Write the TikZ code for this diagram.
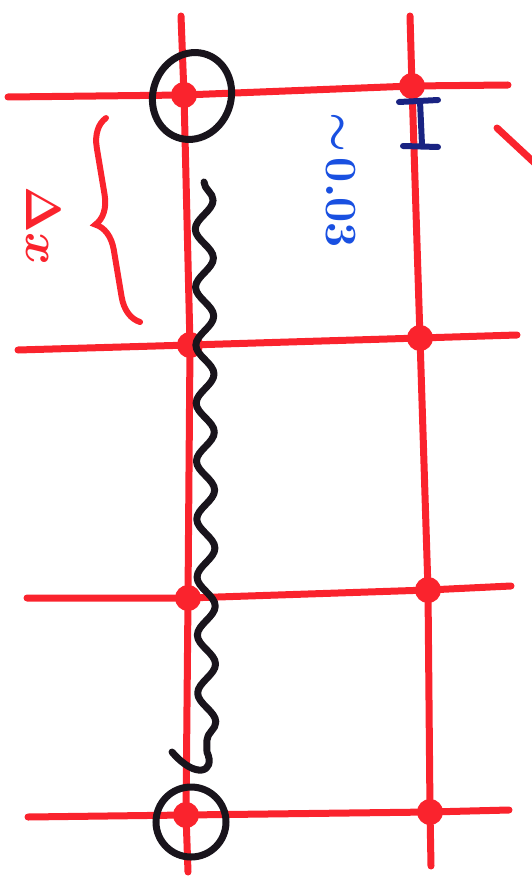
\documentclass[tikz,border=0pt]{standalone}
\usepackage{amsmath,amssymb}
\usetikzlibrary{arrows.meta,positioning,shapes.geometric,decorations.pathmorphing,decorations.pathreplacing,calc}
\definecolor{penRed}{RGB}{250,35,45}
\definecolor{penBlack}{RGB}{25,20,28}
\definecolor{penBlue}{RGB}{25,80,225}
\definecolor{penNavy}{RGB}{25,35,130}

\begin{document}
\begin{tikzpicture}[x=1pt, y=-1pt,
  gridline/.style={draw=penRed, line width=7pt, line cap=round},
  site/.style={circle, fill=penRed, minimum size=26pt, inner sep=0pt},
  ring/.style={ellipse, draw=penBlack, line width=7pt, inner sep=0pt},
  wig/.style={draw=penBlack, line width=7pt, line cap=round, line join=round},
  curly/.style={draw=penRed, line width=6pt, line cap=round,
    decorate, decoration={brace, amplitude=28pt}},
  bar/.style={draw=penNavy, line width=6pt, line cap=round},
  lab/.style={text=#1, inner sep=0pt, rotate=-90, font=\Huge\boldmath},
]
\useasboundingbox (0,0) rectangle (531,877);

% lattice sites
\node[site] (s11) at (184,95) {};
\node[site] (s12) at (412,86) {};
\node[site] (s21) at (190,345) {};
\node[site] (s22) at (420,338) {};
\node[site] (s31) at (188,598) {};
\node[site] (s32) at (428,590) {};
\node[site] (s41) at (186,815) {};
\node[site] (s42) at (430,812) {};

% free ends of the lattice lines
\coordinate (c1top) at (181,16);
\coordinate (c1bot) at (188,872);
\coordinate (c2top) at (410,16);
\coordinate (c2bot) at (431,866);
\coordinate (r1l) at (8,97);
\coordinate (r1r) at (508,85);
\coordinate (r2l) at (18,350);
\coordinate (r2r) at (517,335);
\coordinate (r3l) at (27,598);
\coordinate (r3r) at (511,586);
\coordinate (r4l) at (28,817);
\coordinate (r4r) at (509,810);

\draw[gridline] (c1top) -- (s11.center) -- (s21.center) -- (s31.center) -- (s41.center) -- (c1bot);
\draw[gridline] (c2top) -- (s12.center) -- (s22.center) -- (s32.center) -- (s42.center) -- (c2bot);
\draw[gridline] (r1l) -- (s11.center) -- (s12.center) -- (r1r);
\draw[gridline] (r2l) -- (s21.center) -- (s22.center) -- (r2r);
\draw[gridline] (r3l) -- (s31.center) -- (s32.center) -- (r3r);
\draw[gridline] (r4l) -- (s41.center) -- (s42.center) -- (r4r);

% stray stroke on the right edge
\coordinate (cutA) at (497,128);
\coordinate (cutB) at (540,168);
\draw[gridline] (cutA) -- (cutB);

% marked end points
\node[ring, minimum width=78pt, minimum height=88pt, rotate=-20] (ringTop) at (192,96) {};
\node[ring, minimum width=70pt, minimum height=70pt] (ringBot) at (191,822) {};

% wavy path between them
\coordinate (wigA) at (204,182);
\coordinate (wigB) at (207,752);
\coordinate (wigEnd) at (172,752);
\draw[wig] (wigA) decorate[decoration={snake, amplitude=9pt, segment length=58pt}] {-- (wigB)}
  .. controls (216,772) and (196,780) .. (wigEnd);

% spacing brace
\coordinate (brBot) at (140,322);
\coordinate (brTop) at (106,118);
\draw[curly] (brBot) -- (brTop);
\node[lab=penRed, scale=2] (dx) at (44,226) {$\Delta x$};

% small offset mark
\coordinate (tA) at (399,102);
\coordinate (tB) at (438,100);
\coordinate (tC) at (420,101);
\coordinate (tD) at (422,145);
\coordinate (tE) at (403,146);
\coordinate (tF) at (438,147);
\draw[bar] (tA) -- (tB);
\draw[bar] (tC) -- (tD);
\draw[bar] (tE) -- (tF);
\node[lab=penBlue, scale=1.8] (eps) at (341,180) {$\sim\! 0.03$};

\end{tikzpicture}
\end{document}
